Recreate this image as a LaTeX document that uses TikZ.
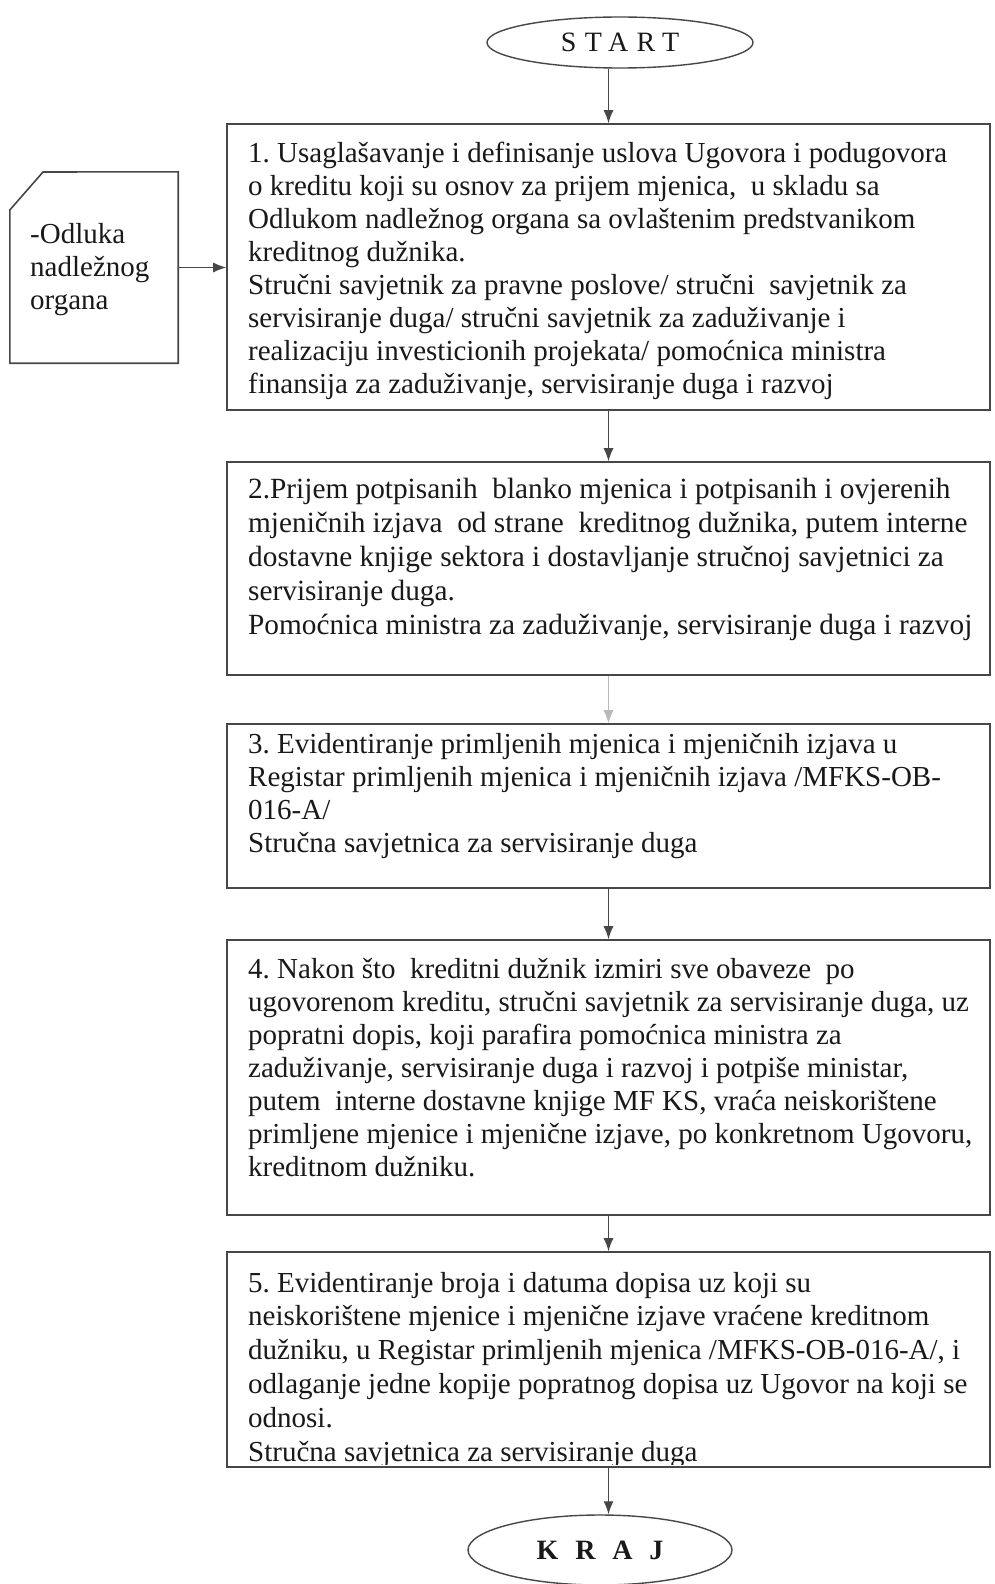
\documentclass[tikz,border=0pt]{standalone}
\usepackage{fontspec}
\setmainfont{Liberation Serif}
\usetikzlibrary{shapes.geometric,arrows.meta}
\definecolor{linecol}{gray}{0.28}
\definecolor{txtcol}{gray}{0.1}
\tikzset{
  stepbox/.style={draw=linecol, line width=1.6pt, rectangle, inner sep=0pt},
  termnode/.style={draw=linecol, line width=1.4pt, ellipse, inner sep=0pt, text=txtcol},
  conn/.style={draw=linecol, line width=1.2pt, -{Latex[length=13pt,width=10pt]}},
  faintconn/.style={draw=gray!55, line width=1.2pt, -{Latex[length=13pt,width=10pt]}},
  boxtext/.style={anchor=base west, inner sep=0pt, text=txtcol, font=\fontsize{29}{33}\selectfont},
}
\newcommand{\boxpar}[2]{\parbox[t]{#1}{\frenchspacing\raggedright #2}}
\begin{document}
\begin{tikzpicture}[x=1pt,y=-1pt]
\useasboundingbox (0,0) rectangle (995,1584);
\fill[white] (0,0) rectangle (995,1584);

% terminals
\node[termnode, minimum width=266pt, minimum height=51pt, font=\fontsize{28}{30}\selectfont\addfontfeature{LetterSpace=30}] (start) at (620,42.5) {START};
\node[termnode, minimum width=264pt, minimum height=70pt, font=\fontsize{28}{30}\selectfont\bfseries\addfontfeature{LetterSpace=60}] (kraj) at (600,1550) {KRAJ};

% boxes
\node[stepbox, minimum width=763pt, minimum height=286pt] (b1) at (608.5,267) {};
\node[stepbox, minimum width=763pt, minimum height=213pt] (b2) at (608.5,568.5) {};
\node[stepbox, minimum width=763pt, minimum height=164pt] (b3) at (608.5,806) {};
\node[stepbox, minimum width=763pt, minimum height=275pt] (b4) at (608.5,1077.5) {};
\node[stepbox, minimum width=763pt, minimum height=215pt] (b5) at (608.5,1359.5) {};

% document shape
\node[minimum width=168pt, minimum height=191pt, inner sep=0pt] (doc) at (94,267.5) {};
\draw[linecol, line width=1.6pt] (doc.west |- 0,210) -- (43,172) -- (doc.north east) -- (doc.south east) -- (doc.south west) -- cycle;
\node[boxtext] (doctext) at (30,243) {\boxpar{150pt}{-Odluka\\nadležnog\\organa}};

% texts
\begin{scope}
\clip (227,124) rectangle (990,401);
\node[boxtext] (t1) at (248,162) {\boxpar{740pt}{1. Usaglašavanje i definisanje uslova Ugovora i podugovora\\
o kreditu koji su osnov za prijem mjenica,\ \ u skladu sa\\
Odlukom nadležnog organa sa ovlaštenim predstvanikom\\
kreditnog dužnika.\\
Stručni savjetnik za pravne poslove/ stručni\ \ savjetnik za\\
servisiranje duga/ stručni savjetnik za zaduživanje i\\
realizaciju investicionih projekata/ pomoćnica ministra\\
finansija za zaduživanje, servisiranje duga i razvoj}};
\end{scope}

\node[boxtext, font=\fontsize{29.3}{34}\selectfont] (t2) at (248,498) {\boxpar{740pt}{2.Prijem potpisanih\ \ blanko mjenica i potpisanih i ovjerenih\\
mjeničnih izjava\ \ od strane\ \ kreditnog dužnika, putem interne\\
dostavne knjige sektora i dostavljanje stručnoj savjetnici za\\
servisiranje duga.\\
Pomoćnica ministra za zaduživanje, servisiranje duga i razvoj}};

\node[boxtext] (t3) at (248,753) {\boxpar{740pt}{3. Evidentiranje primljenih mjenica i mjeničnih izjava u\\
Registar primljenih mjenica i mjeničnih izjava /MFKS-OB-\\
016-A/\\
Stručna savjetnica za servisiranje duga}};

\node[boxtext] (t4) at (248,978) {\boxpar{740pt}{4. Nakon što\ \ kreditni dužnik izmiri sve obaveze\ \ po\\
ugovorenom kreditu, stručni savjetnik za servisiranje duga, uz\\
popratni dopis, koji parafira pomoćnica ministra za\\
zaduživanje, servisiranje duga i razvoj i potpiše ministar,\\
putem\ \ interne dostavne knjige MF KS, vraća neiskorištene\\
primljene mjenice i mjenične izjave, po konkretnom Ugovoru,\\
kreditnom dužniku.}};

\begin{scope}
\clip (227,1252) rectangle (990,1464);
\node[boxtext, font=\fontsize{29}{33.8}\selectfont] (t5) at (248,1292) {\boxpar{740pt}{5. Evidentiranje broja i datuma dopisa uz koji su\\
neiskorištene mjenice i mjenične izjave vraćene kreditnom\\
dužniku, u Registar primljenih mjenica /MFKS-OB-016-A/, i\\
odlaganje jedne kopije popratnog dopisa uz Ugovor na koji se\\
odnosi.\\
Stručna savjetnica za servisiranje duga}};
\end{scope}

% connectors
\draw[conn] (b1.north |- start.south) -- (b1.north);
\draw[conn] (doc.east) -- (b1.west |- doc.east);
\draw[conn] (b1.south) -- (b2.north);
\draw[faintconn] (b2.south) -- (b3.north);
\draw[conn] (b3.south) -- (b4.north);
\draw[conn] (b4.south) -- (b5.north);
\draw[conn] (b5.south) -- (b5.south |- kraj.north);
\end{tikzpicture}
\end{document}
